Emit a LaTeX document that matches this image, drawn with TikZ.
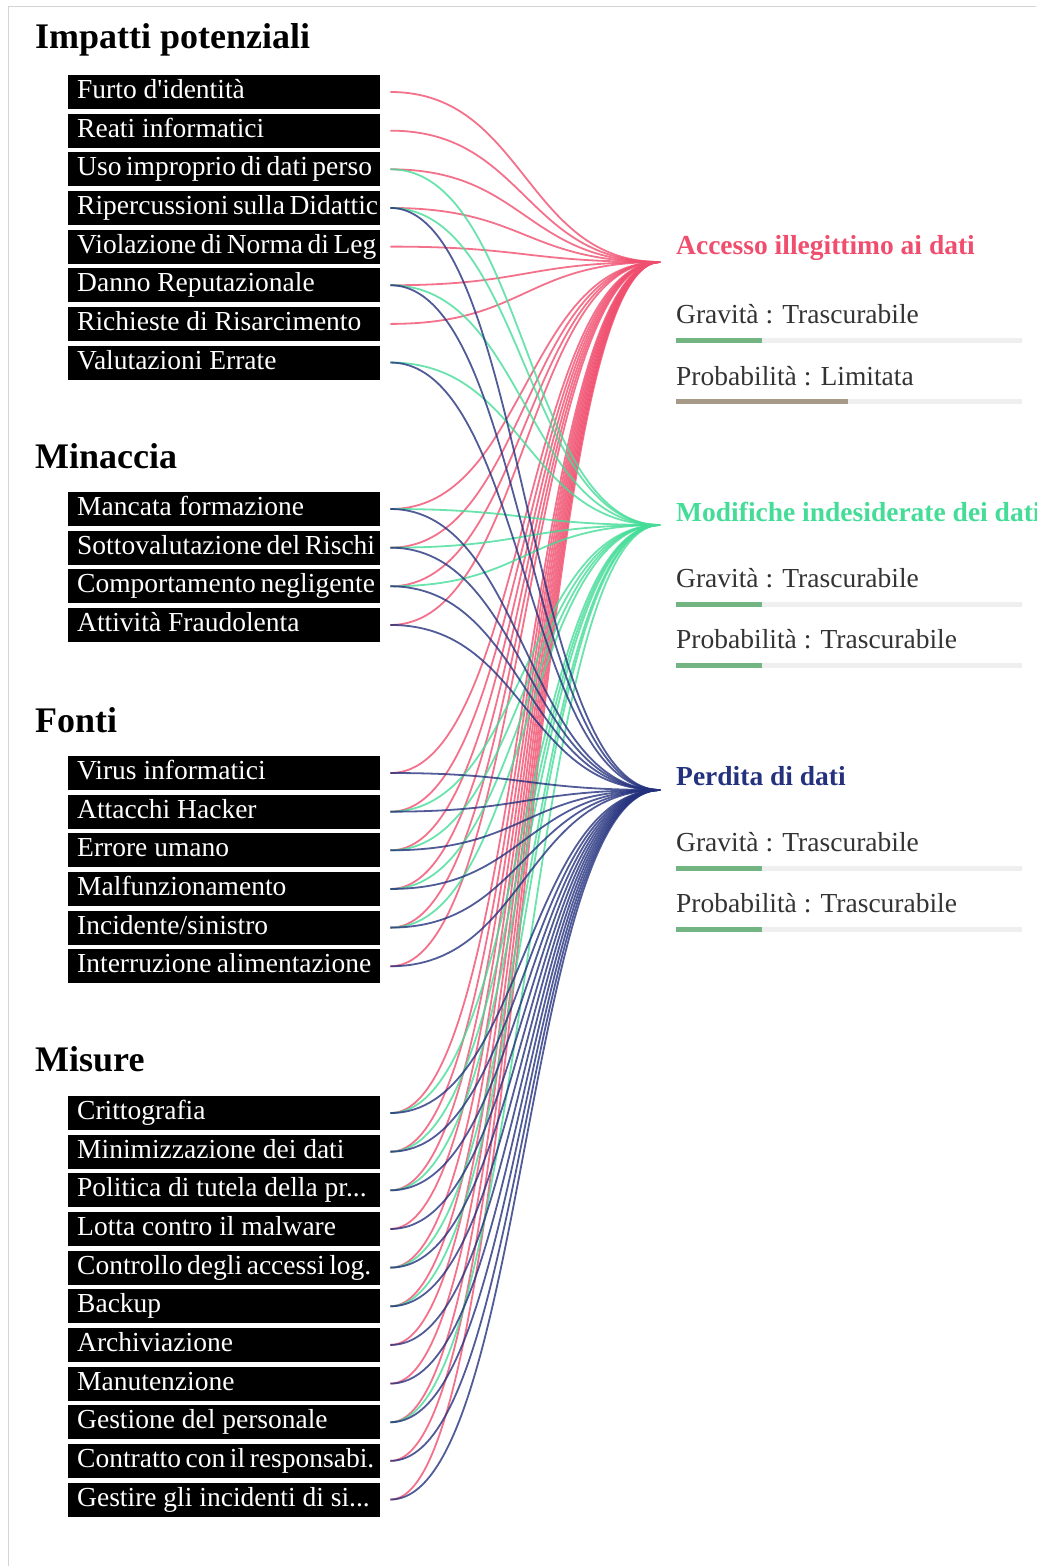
\documentclass[tikz,border=0pt]{standalone}
\usepackage{fontspec}
\setmainfont{Liberation Serif}
\usetikzlibrary{positioning}

\definecolor{accred}{HTML}{F04E6E}
\definecolor{modgreen}{HTML}{45DC98}
\definecolor{perblue}{HTML}{24327E}
\definecolor{levelgreen}{HTML}{72B582}
\definecolor{levelbrown}{HTML}{A89A88}
\definecolor{track}{HTML}{EFEFEF}
\definecolor{framegray}{HTML}{D4D4D4}

\tikzset{
  grouptitle/.style={anchor=west,inner sep=0,font=\fontsize{36}{40}\selectfont\bfseries},
  riskbox/.style={fill=black,text=white,anchor=west,inner xsep=9pt,inner ysep=4.5pt,
    text height=19pt,text depth=6pt,font=\fontsize{27.5}{30}\selectfont,
    execute at begin node={\hbox to 294pt\bgroup},execute at end node={\hfil\egroup}},
  headline/.style={anchor=west,inner sep=0,font=\fontsize{27.5}{30}\selectfont\bfseries},
  level/.style={anchor=west,inner sep=0,text=black!80,font=\fontsize{27.5}{30}\selectfont},
  bar/.style={line width=5pt},
  link/.style={line width=1.8pt,opacity=.8,
    to path={([xshift=10pt]\tikztostart.east) .. controls +(135pt,0) and +(-135pt,0) .. (\tikztotarget)}},
  redlink/.style={link,draw=accred},
  greenlink/.style={link,draw=modgreen},
  bluelink/.style={link,draw=perblue}
}

\begin{document}
\begin{tikzpicture}[x=1pt,y=-1pt,node distance=4.25pt]
\useasboundingbox (0,0) rectangle (1036,1566);
\draw[framegray] (8,1566) -- (8,6) -- (1036,6);

% impatti potenziali
\node[grouptitle] (timp) at (35,40) {Impatti potenziali};
\node[riskbox] (furto) at (68,92) {Furto d\textquotesingle identità};
\node[riskbox] (reati) [below=of furto.south west,anchor=north west] {Reati informatici};
\node[riskbox] (uso) [below=of reati.south west,anchor=north west] {Uso improprio di dati perso};
\node[riskbox] (riperc) [below=of uso.south west,anchor=north west] {Ripercussioni sulla Didattic};
\node[riskbox] (violaz) [below=of riperc.south west,anchor=north west] {Violazione di Norma di Leg};
\node[riskbox] (danno) [below=of violaz.south west,anchor=north west] {Danno Reputazionale};
\node[riskbox] (richieste) [below=of danno.south west,anchor=north west] {Richieste di Risarcimento};
\node[riskbox] (valutaz) [below=of richieste.south west,anchor=north west] {Valutazioni Errate};

% minaccia
\node[grouptitle] (tmin) at (35,456) {Minaccia};
\node[riskbox] (mancata) at (68,509) {Mancata formazione};
\node[riskbox] (sottoval) [below=of mancata.south west,anchor=north west] {Sottovalutazione del Rischi};
\node[riskbox] (comport) [below=of sottoval.south west,anchor=north west] {Comportamento negligente};
\node[riskbox] (attivita) [below=of comport.south west,anchor=north west] {Attività Fraudolenta};

% fonti
\node[grouptitle] (tfon) at (35,720) {Fonti};
\node[riskbox] (virus) at (68,773) {Virus informatici};
\node[riskbox] (attacchi) [below=of virus.south west,anchor=north west] {Attacchi Hacker};
\node[riskbox] (errore) [below=of attacchi.south west,anchor=north west] {Errore umano};
\node[riskbox] (malfunz) [below=of errore.south west,anchor=north west] {Malfunzionamento};
\node[riskbox] (incidente) [below=of malfunz.south west,anchor=north west] {Incidente/sinistro};
\node[riskbox] (interruz) [below=of incidente.south west,anchor=north west] {Interruzione alimentazione};

% misure
\node[grouptitle] (tmis) at (35,1059) {Misure};
\node[riskbox] (critto) at (68,1113) {Crittografia};
\node[riskbox] (minim) [below=of critto.south west,anchor=north west] {Minimizzazione dei dati};
\node[riskbox] (politica) [below=of minim.south west,anchor=north west] {Politica di tutela della pr...};
\node[riskbox] (lotta) [below=of politica.south west,anchor=north west] {Lotta contro il malware};
\node[riskbox] (controllo) [below=of lotta.south west,anchor=north west] {Controllo degli accessi log.};
\node[riskbox] (backup) [below=of controllo.south west,anchor=north west] {Backup};
\node[riskbox] (archiv) [below=of backup.south west,anchor=north west] {Archiviazione};
\node[riskbox] (manut) [below=of archiv.south west,anchor=north west] {Manutenzione};
\node[riskbox] (gestpers) [below=of manut.south west,anchor=north west] {Gestione del personale};
\node[riskbox] (contratto) [below=of gestpers.south west,anchor=north west] {Contratto con il responsabi.};
\node[riskbox] (gestinc) [below=of contratto.south west,anchor=north west] {Gestire gli incidenti di si...};

% rischi
\coordinate (acc) at (660,262);
\coordinate (mod) at (660,525);
\coordinate (per) at (660,790);

\node[headline,text=accred] (accname) at (676,248) {Accesso illegittimo ai dati};
\node[level] (accgrav) at (676,314) {Gravità : Trascurabile};
\node[level] (accprob) at (676,376) {Probabilità : Limitata};
\draw[bar,track] (676,340) -- (1022,340);
\draw[bar,levelgreen] (676,340) -- (762,340);
\draw[bar,track] (676,401) -- (1022,401);
\draw[bar,levelbrown] (676,401) -- (848,401);

\node[headline,text=modgreen] (modname) at (676,512) {Modifiche indesiderate dei dati};
\node[level] (modgrav) at (676,578) {Gravità : Trascurabile};
\node[level] (modprob) at (676,639) {Probabilità : Trascurabile};
\draw[bar,track] (676,604) -- (1022,604);
\draw[bar,levelgreen] (676,604) -- (762,604);
\draw[bar,track] (676,665) -- (1022,665);
\draw[bar,levelgreen] (676,665) -- (762,665);

\node[headline,text=perblue] (pername) at (676,776) {Perdita di dati};
\node[level] (pergrav) at (676,842) {Gravità : Trascurabile};
\node[level] (perprob) at (676,903) {Probabilità : Trascurabile};
\draw[bar,track] (676,868) -- (1022,868);
\draw[bar,levelgreen] (676,868) -- (762,868);
\draw[bar,track] (676,929) -- (1022,929);
\draw[bar,levelgreen] (676,929) -- (762,929);

% collegamenti
\path (furto) edge[redlink] (acc) (reati) edge[redlink] (acc)
  (uso) edge[redlink] (acc) (riperc) edge[redlink] (acc)
  (violaz) edge[redlink] (acc) (danno) edge[redlink] (acc)
  (richieste) edge[redlink] (acc)
  (mancata) edge[redlink] (acc) (sottoval) edge[redlink] (acc)
  (comport) edge[redlink] (acc) (attivita) edge[redlink] (acc)
  (virus) edge[redlink] (acc) (attacchi) edge[redlink] (acc)
  (errore) edge[redlink] (acc) (malfunz) edge[redlink] (acc)
  (incidente) edge[redlink] (acc) (interruz) edge[redlink] (acc)
  (critto) edge[redlink] (acc) (minim) edge[redlink] (acc)
  (politica) edge[redlink] (acc) (lotta) edge[redlink] (acc)
  (controllo) edge[redlink] (acc) (backup) edge[redlink] (acc)
  (archiv) edge[redlink] (acc) (manut) edge[redlink] (acc)
  (gestpers) edge[redlink] (acc) (contratto) edge[redlink] (acc)
  (gestinc) edge[redlink] (acc);

\path (uso) edge[greenlink] (mod) (riperc) edge[greenlink] (mod)
  (danno) edge[greenlink] (mod) (valutaz) edge[greenlink] (mod)
  (mancata) edge[greenlink] (mod) (sottoval) edge[greenlink] (mod)
  (comport) edge[greenlink] (mod)
  (attacchi) edge[greenlink] (mod) (errore) edge[greenlink] (mod)
  (malfunz) edge[greenlink] (mod) (incidente) edge[greenlink] (mod)
  (critto) edge[greenlink] (mod) (minim) edge[greenlink] (mod)
  (politica) edge[greenlink] (mod) (controllo) edge[greenlink] (mod)
  (backup) edge[greenlink] (mod) (gestpers) edge[greenlink] (mod);

\path (riperc) edge[bluelink] (per) (danno) edge[bluelink] (per)
  (valutaz) edge[bluelink] (per)
  (mancata) edge[bluelink] (per) (sottoval) edge[bluelink] (per)
  (comport) edge[bluelink] (per) (attivita) edge[bluelink] (per)
  (virus) edge[bluelink] (per) (attacchi) edge[bluelink] (per)
  (errore) edge[bluelink] (per) (malfunz) edge[bluelink] (per)
  (incidente) edge[bluelink] (per) (interruz) edge[bluelink] (per)
  (critto) edge[bluelink] (per) (minim) edge[bluelink] (per)
  (politica) edge[bluelink] (per) (lotta) edge[bluelink] (per)
  (controllo) edge[bluelink] (per) (backup) edge[bluelink] (per)
  (archiv) edge[bluelink] (per) (manut) edge[bluelink] (per)
  (gestpers) edge[bluelink] (per) (contratto) edge[bluelink] (per)
  (gestinc) edge[bluelink] (per);
\end{tikzpicture}
\end{document}
